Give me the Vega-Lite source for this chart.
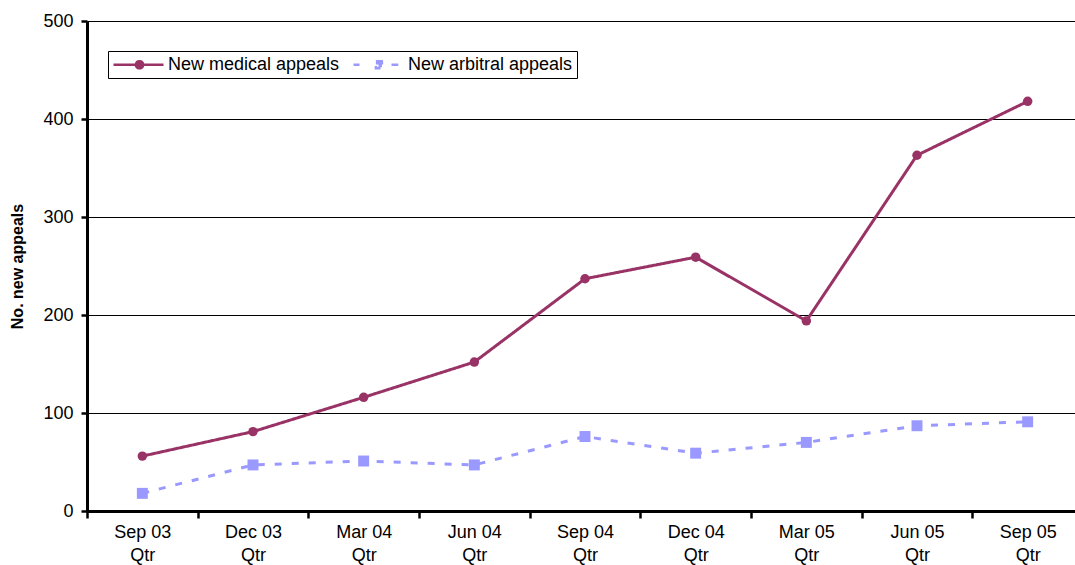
{
  "$schema": "https://vega.github.io/schema/vega-lite/v6.json",
  "width": 996,
  "height": 490,
  "autosize": {"type": "none"},
  "padding": {"left": 87, "top": 21, "right": 0, "bottom": 54},
  "background": "white",
  "config": {
    "font": "Liberation Sans",
    "view": {"stroke": null}
  },
  "data": {
    "values": [
      {"q": "Sep 03 Qtr", "series": "New medical appeals", "value": 56},
      {"q": "Dec 03 Qtr", "series": "New medical appeals", "value": 81},
      {"q": "Mar 04 Qtr", "series": "New medical appeals", "value": 116},
      {"q": "Jun 04 Qtr", "series": "New medical appeals", "value": 152},
      {"q": "Sep 04 Qtr", "series": "New medical appeals", "value": 237},
      {"q": "Dec 04 Qtr", "series": "New medical appeals", "value": 259},
      {"q": "Mar 05 Qtr", "series": "New medical appeals", "value": 194},
      {"q": "Jun 05 Qtr", "series": "New medical appeals", "value": 363},
      {"q": "Sep 05 Qtr", "series": "New medical appeals", "value": 418},
      {"q": "Sep 03 Qtr", "series": "New arbitral appeals", "value": 18},
      {"q": "Dec 03 Qtr", "series": "New arbitral appeals", "value": 47},
      {"q": "Mar 04 Qtr", "series": "New arbitral appeals", "value": 51},
      {"q": "Jun 04 Qtr", "series": "New arbitral appeals", "value": 47},
      {"q": "Sep 04 Qtr", "series": "New arbitral appeals", "value": 76},
      {"q": "Dec 04 Qtr", "series": "New arbitral appeals", "value": 59},
      {"q": "Mar 05 Qtr", "series": "New arbitral appeals", "value": 70},
      {"q": "Jun 05 Qtr", "series": "New arbitral appeals", "value": 87},
      {"q": "Sep 05 Qtr", "series": "New arbitral appeals", "value": 91}
    ]
  },
  "encoding": {
    "x": {
      "field": "q",
      "type": "ordinal",
      "sort": null,
      "scale": {"type": "band", "paddingInner": 0, "paddingOuter": 0},
      "axis": {
        "title": null,
        "labelAngle": 0,
        "labelExpr": "datum.label ? [slice(datum.label, 0, 6), 'Qtr'] : ''",
        "labelFontSize": 18,
        "labelLineHeight": 23,
        "labelColor": "#000",
        "labelPadding": 5,
        "tickBand": "extent",
        "tickColor": "#000",
        "tickWidth": 2.5,
        "tickSize": 7,
        "domainColor": "#000",
        "domainWidth": 3,
        "grid": false
      }
    },
    "y": {
      "field": "value",
      "type": "quantitative",
      "scale": {"domain": [0, 500], "nice": false},
      "axis": {
        "title": "No. new appeals",
        "titleFontSize": 16,
        "titleFontWeight": "bold",
        "titleColor": "#000",
        "titlePadding": 17,
        "values": [0, 100, 200, 300, 400, 500],
        "labelFontSize": 18,
        "labelColor": "#000",
        "labelPadding": 8,
        "tickColor": "#000",
        "tickWidth": 2.5,
        "tickSize": 6,
        "domainColor": "#000",
        "domainWidth": 3,
        "grid": true,
        "gridColor": "#000",
        "gridWidth": 1
      }
    },
    "color": {
      "field": "series",
      "type": "nominal",
      "sort": ["New medical appeals", "New arbitral appeals"],
      "scale": {"domain": ["New medical appeals", "New arbitral appeals"], "range": ["#993366", "#9999FF"]},
      "legend": {
        "title": null,
        "orient": "none",
        "legendX": 21,
        "legendY": 30,
        "direction": "horizontal",
        "columns": 2,
        "padding": 4,
        "strokeColor": "#000",
        "fillColor": "white",
        "labelFontSize": 18,
        "labelColor": "#000",
        "labelOffset": 37,
        "columnPadding": 8,
        "symbolOpacity": 1,
        "symbolSize": 256,
        "symbolStrokeWidth": 2.5,
        "labelLimit": 300
      }
    }
  },
  "layer": [
    {
      "mark": {"type": "line", "strokeWidth": 3},
      "encoding": {
        "strokeDash": {
          "field": "series",
          "type": "nominal",
          "scale": {"domain": ["New medical appeals", "New arbitral appeals"], "range": [[1, 0], [7, 10]]},
          "legend": null
        }
      }
    },
    {
      "transform": [{"filter": "datum.series == 'New medical appeals'"}],
      "mark": {"type": "point", "filled": true, "opacity": 1, "shape": "circle", "size": 90}
    },
    {
      "transform": [{"filter": "datum.series == 'New arbitral appeals'"}],
      "mark": {"type": "point", "filled": true, "opacity": 1, "shape": "square", "size": 120}
    },
    {
      "mark": {"type": "point", "filled": true, "opacity": 0, "strokeWidth": 2.5},
      "encoding": {
        "stroke": {
          "field": "series",
          "type": "nominal",
          "scale": {"domain": ["New medical appeals", "New arbitral appeals"], "range": ["#993366", "#9999FF"]},
          "legend": {"title": null}
        },
        "shape": {
          "field": "series",
          "type": "nominal",
          "scale": {
            "domain": ["New medical appeals", "New arbitral appeals"],
            "range": [
              "M-1,0H5.25M2.7,0A0.45,0.45,0,1,1,1.8,0A0.45,0.45,0,1,1,2.7,0ZM2.55,0A0.3,0.3,0,1,1,1.95,0A0.3,0.3,0,1,1,2.55,0ZM2.4,0A0.15,0.15,0,1,1,2.1,0A0.15,0.15,0,1,1,2.4,0Z",
              "M-1,0H-0.25M3.75,0H4.6M1.8,-0.45H2.7V0.45H1.8ZM1.95,-0.3H2.55V0.3H1.95ZM2.1,-0.15H2.4V0.15H2.1Z"
            ]
          },
          "legend": {"title": null}
        }
      }
    }
  ]
}
